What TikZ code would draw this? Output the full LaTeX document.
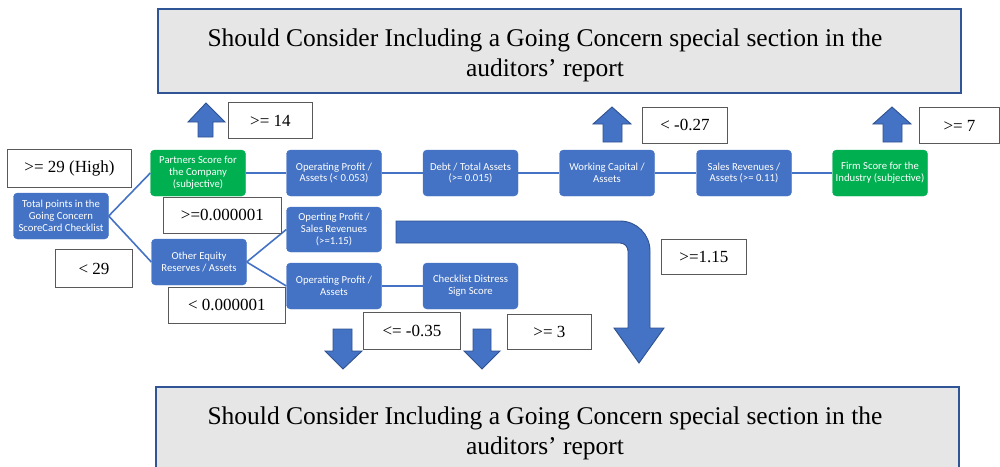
\documentclass[tikz,border=0pt]{standalone}
\usepackage{fontspec}
\setmainfont{Liberation Serif}
\newfontfamily\nodefont{Carlito}
\definecolor{nodeblue}{HTML}{4472C4}
\definecolor{nodegreen}{HTML}{00B050}
\definecolor{arrowedge}{HTML}{2F528F}
\definecolor{titleedge}{HTML}{2F5597}
\definecolor{titlefill}{HTML}{E7E6E6}
\definecolor{lbledge}{HTML}{595959}
\tikzset{
  stepbox/.style={rectangle, rounded corners=4pt, fill=nodeblue, draw=nodeblue,
    text=white, align=center, font=\nodefont\fontsize{10.7}{11.8}\selectfont,
    minimum width=95pt, minimum height=46pt, inner sep=1pt},
  greenbox/.style={stepbox, fill=nodegreen, draw=nodegreen},
  lbl/.style={rectangle, draw=lbledge, line width=0.9pt, fill=white, anchor=north west,
    align=left, inner xsep=15pt, inner ysep=0pt,
    font=\fontsize{17}{20}\selectfont},
  titlebox/.style={rectangle, draw=titleedge, line width=1.6pt, fill=titlefill,
    anchor=north west},
  titletext/.style={align=center, font=\fontsize{25.5}{30}\selectfont, inner sep=0pt},
  link/.style={draw=nodeblue, line width=1.6pt},
  bigarrow/.style={fill=nodeblue, draw=arrowedge, line width=0.9pt, line join=miter}
}
\begin{document}
\begin{tikzpicture}[x=1pt,y=-1pt]
\useasboundingbox (0,0) rectangle (1000,466);

% outcome boxes
\node[titlebox, minimum width=803pt, minimum height=84pt] (topout) at (157,8) {};
\node[titletext] (toptext) at (545,55.5)
  {Should Consider Including a Going Concern special section in the\\auditors' report};
\node[titlebox, minimum width=803pt, minimum height=92pt] (botout) at (155,386) {};
\node[titletext] (bottext) at (545,433)
  {Should Consider Including a Going Concern special section in the\\auditors' report};

% decision steps
\node[stepbox] (total) at (61,216) {Total points in the\\Going Concern\\ScoreCard Checklist};
\node[greenbox] (partners) at (198,173) {Partners Score for\\the Company\\(subjective)};
\node[stepbox] (opa1) at (334,173) {Operating Profit /\\Assets (< 0.053)};
\node[stepbox] (debt) at (470.5,173) {Debt / Total Assets\\(>= 0.015)};
\node[stepbox] (wc) at (607,173) {Working Capital /\\Assets};
\node[stepbox] (sales) at (744,173) {Sales Revenues /\\Assets (>= 0.11)};
\node[greenbox] (firm) at (880,173) {Firm Score for the\\Industry (subjective)};
\node[stepbox] (other) at (199,262) {Other Equity\\Reserves / Assets};
\node[stepbox, minimum height=45pt] (opsales) at (334,229.5) {Operting Profit /\\Sales Revenues\\(>=1.15)};
\node[stepbox] (opa2) at (334,286) {Operating Profit /\\Assets};
\node[stepbox] (check) at (470.5,286) {Checklist Distress\\Sign Score};

% connectors
\draw[link] (total.east) -- (partners.west);
\draw[link] (total.east) -- (other.west);
\draw[link] (partners) -- (opa1);
\draw[link] (opa1) -- (debt);
\draw[link] (debt) -- (wc);
\draw[link] (wc) -- (sales);
\draw[link] (sales) -- (firm);
\draw[link] (other.east) -- (opsales.west);
\draw[link] (other.east) -- (opa2.west);
\draw[link] (opa2) -- (check);

% threshold labels
\node[lbl, minimum width=124pt, minimum height=38pt] (l29h) at (7,149) {>= 29 (High)};
\node[lbl, minimum width=77pt, minimum height=38pt] (l29l) at (55,249) {< 29};
\node[lbl, minimum width=118pt, minimum height=36pt] (lpos) at (163,197) {>=0.000001};
\node[lbl, minimum width=117pt, minimum height=36pt] (lneg) at (168,287) {< 0.000001};
\node[lbl, minimum width=84pt, minimum height=36pt] (l14) at (228,102) {>= 14};
\node[lbl, minimum width=85pt, minimum height=36pt] (l027) at (642,107) {< -0.27};
\node[lbl, minimum width=80pt, minimum height=36pt] (l7) at (919,107) {>= 7};
\node[lbl, minimum width=85pt, minimum height=35pt] (l115) at (661,239) {>=1.15};
\node[lbl, minimum width=97pt, minimum height=37pt] (l035) at (363,312) {<= -0.35};
\node[lbl, minimum width=84pt, minimum height=35pt] (l3) at (507,314) {>= 3};

% block arrows up
\path[bigarrow] (198,137) -- (198,122) -- (188,122) -- (206,103) -- (225,122)
  -- (213,122) -- (213,137) -- cycle;
\path[bigarrow] (603,142) -- (603,124) -- (593,124) -- (612,107) -- (631,124)
  -- (622,124) -- (622,142) -- cycle;
\path[bigarrow] (883,142) -- (883,124) -- (873,124) -- (892,107) -- (911,124)
  -- (902,124) -- (902,142) -- cycle;

% block arrows down
\path[bigarrow] (333,329) -- (352,329) -- (352,351) -- (362,351) -- (343,369)
  -- (325,351) -- (333,351) -- cycle;
\path[bigarrow] (473,329) -- (491,329) -- (491,351) -- (500,351) -- (482,369)
  -- (464,351) -- (473,351) -- cycle;

% bent arrow
\path[bigarrow] (396,221) -- (620,221)
  .. controls (636.6,221) and (650,234.4) .. (650,251)
  -- (650,328) -- (664,328) -- (639,363) -- (614,328) -- (628,328) -- (628,251)
  .. controls (628,246.6) and (624.4,243) .. (620,243)
  -- (396,243) -- cycle;
\end{tikzpicture}
\end{document}
